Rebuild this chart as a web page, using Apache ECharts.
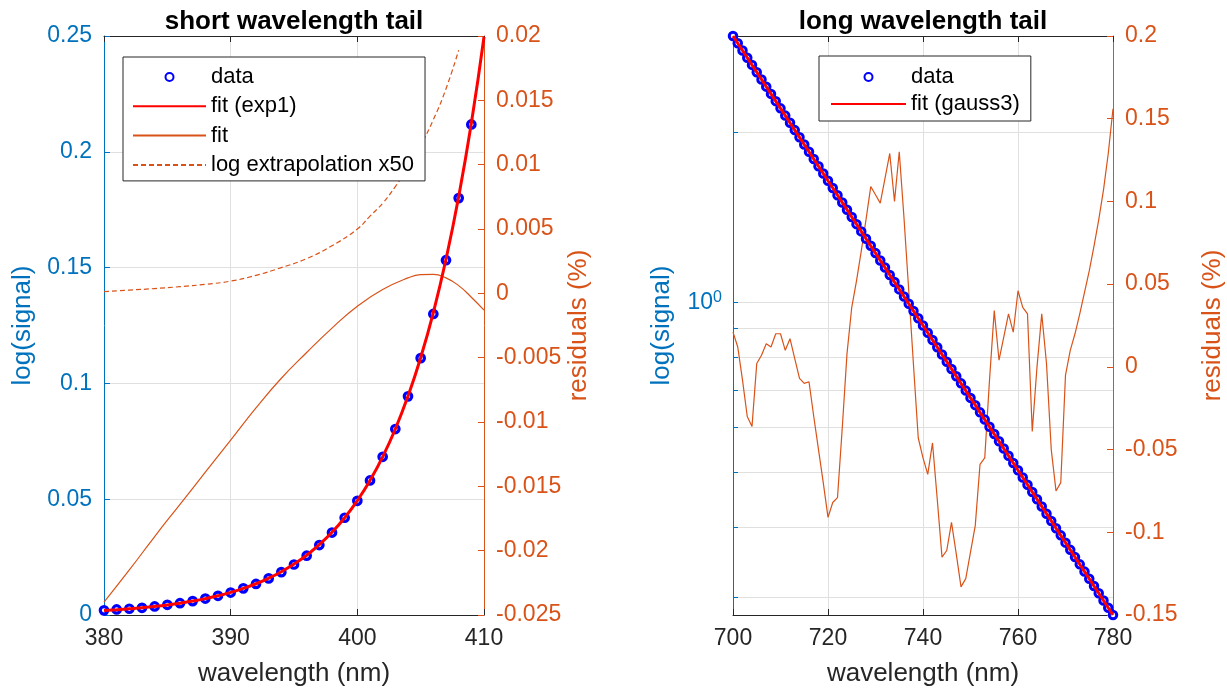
<!DOCTYPE html>
<html>
<head>
<meta charset="utf-8">
<script src="https://cdn.jsdelivr.net/npm/echarts@6/dist/echarts.min.js"></script>
<style>
  html, body { margin: 0; padding: 0; background: #ffffff; }
  #chart { width: 1227px; height: 692px; }
</style>
</head>
<body>
<div id="chart"></div>
<script>
// ---------- short wavelength tail ----------
const shortWavelength = [380, 381, 382, 383, 384, 385, 386, 387, 388, 389,
  390, 391, 392, 393, 394, 395, 396, 397, 398, 399,
  400, 401, 402, 403, 404, 405, 406, 407, 408, 409];
const shortSignal = [0.0020, 0.0024, 0.0027, 0.0031, 0.0037, 0.0044, 0.0051, 0.0060, 0.0071, 0.0083,
  0.0097, 0.0115, 0.0134, 0.0158, 0.0185, 0.0218, 0.0256, 0.0302, 0.0356, 0.0420,
  0.0493, 0.0581, 0.0683, 0.0803, 0.0944, 0.1109, 0.1300, 0.1532, 0.1800, 0.2118];

const exp1Wavelength = [380, 381, 382, 383, 384, 385, 386, 387, 388, 389,
  390, 391, 392, 393, 394, 395, 396, 397, 398, 399,
  400, 401, 402, 403, 404, 405, 406, 407, 408, 409, 410];
const exp1Fit = [0.00194, 0.00228, 0.00268, 0.00315, 0.00370, 0.00435, 0.00511, 0.00601, 0.00707, 0.00831,
  0.00978, 0.0115, 0.0135, 0.0159, 0.0187, 0.0220, 0.0258, 0.0304, 0.0357, 0.0420,
  0.0494, 0.0581, 0.0683, 0.0803, 0.0945, 0.1111, 0.1306, 0.1536, 0.1806, 0.2123, 0.2497];

// residual-axis curves (%)
const residualFitWavelength = [380, 382, 384, 386, 388, 390, 392, 394, 396, 398,
  400, 402, 404, 405, 406, 407, 408, 409, 410];
const residualFit = [-0.0240, -0.0215, -0.0189, -0.0164, -0.0139, -0.0114, -0.0089, -0.0066, -0.0046, -0.0027,
  -0.0010, 0.0003, 0.0012, 0.00145, 0.00148, 0.0012, 0.0006, -0.0003, -0.0013];

const extrapWavelength = [380, 382, 384, 386, 388, 390, 392, 394, 396, 398,
  400, 401, 402, 403, 404, 405, 406, 407, 408];
const extrapValue = [0.00013, 0.00025, 0.00037, 0.00052, 0.00070, 0.00095, 0.0014, 0.0020, 0.0027, 0.0037,
  0.0050, 0.0060, 0.0070, 0.0083, 0.0098, 0.0115, 0.0135, 0.0159, 0.0189];

// ---------- long wavelength tail ----------
const longWavelength = [700, 701, 702, 703, 704, 705, 706, 707, 708, 709,
  710, 711, 712, 713, 714, 715, 716, 717, 718, 719,
  720, 721, 722, 723, 724, 725, 726, 727, 728, 729,
  730, 731, 732, 733, 734, 735, 736, 737, 738, 739,
  740, 741, 742, 743, 744, 745, 746, 747, 748, 749,
  750, 751, 752, 753, 754, 755, 756, 757, 758, 759,
  760, 761, 762, 763, 764, 765, 766, 767, 768, 769,
  770, 771, 772, 773, 774, 775, 776, 777, 778, 779, 780];
const longSignal = [2.960, 2.874, 2.791, 2.709, 2.631, 2.554, 2.480, 2.408, 2.338, 2.270,
  2.204, 2.140, 2.078, 2.017, 1.959, 1.902, 1.847, 1.793, 1.741, 1.690,
  1.641, 1.593, 1.547, 1.502, 1.458, 1.416, 1.375, 1.335, 1.296, 1.259,
  1.222, 1.186, 1.152, 1.118, 1.086, 1.054, 1.024, 0.9940, 0.9651, 0.9371,
  0.9097, 0.8832, 0.8576, 0.8327, 0.8085, 0.7850, 0.7622, 0.7400, 0.7186, 0.6977,
  0.6773, 0.6576, 0.6385, 0.6200, 0.6020, 0.5845, 0.5675, 0.5510, 0.5350, 0.5195,
  0.5043, 0.4896, 0.4754, 0.4616, 0.4482, 0.4352, 0.4225, 0.4102, 0.3983, 0.3868,
  0.3755, 0.3646, 0.3540, 0.3437, 0.3337, 0.3240, 0.3146, 0.3055, 0.2966, 0.2880, 0.2796];

const gaussWavelength = [700, 710, 720, 730, 740, 750, 760, 770, 780];
const gauss3Fit = [2.960, 2.204, 1.641, 1.222, 0.9097, 0.6773, 0.5043, 0.3755, 0.2796];

const longResidual = [0.021, 0.012, -0.008, -0.030, -0.036, 0.002, 0.007, 0.014, 0.012, 0.020,
  0.020, 0.010, 0.017, 0.005, -0.007, -0.010, -0.009, -0.030, -0.050, -0.070,
  -0.091, -0.082, -0.079, -0.037, 0.008, 0.036, 0.052, 0.070, 0.089, 0.109,
  0.104, 0.099, 0.114, 0.129, 0.100, 0.130, 0.090, 0.046, 0.001, -0.043,
  -0.055, -0.065, -0.046, -0.080, -0.115, -0.111, -0.094, -0.113, -0.133, -0.128,
  -0.112, -0.096, -0.059, -0.055, -0.008, 0.034, 0.004, 0.018, 0.032, 0.021,
  0.046, 0.036, 0.032, -0.039, 0.000, 0.032, 0.002, -0.050, -0.075, -0.070,
  -0.005, 0.010, 0.020, 0.032, 0.045, 0.058, 0.073, 0.089, 0.107, 0.129, 0.156];

// log-axis tick positions and the single labelled decade
const logTickValues = [0.3, 0.4, 0.5, 0.6, 0.7, 0.8, 0.9, 1, 2];
const logLabelValues = [1];

// ---------- styling ----------
const FONT = 'Liberation Sans, Arial, Helvetica, sans-serif';
const BLUE = '#0072BD';
const ORANGE = '#D95319';
const DARK = '#262626';
const GRID = '#e0e0e0';
const MARKER = '#0000FF';
const FITRED = '#FF0000';

function zip(xs, ys) { return xs.map((x, i) => [x, ys[i]]); }

function bottomAxis(gridIndex, min, max, interval) {
  return {
    type: 'value', gridIndex, position: 'bottom', min, max, interval,
    name: 'wavelength (nm)', nameLocation: 'middle', nameGap: 46,
    nameTextStyle: { fontFamily: FONT, fontSize: 26, color: DARK },
    axisLine: { show: true, onZero: false, lineStyle: { color: DARK, width: 1 } },
    axisTick: { show: true, inside: true, length: 6, lineStyle: { color: DARK } },
    axisLabel: { fontFamily: FONT, fontSize: 23, color: DARK, margin: 12 },
    splitLine: { show: true, lineStyle: { color: GRID, width: 1 } }
  };
}
function topAxis(gridIndex, min, max, interval) {
  return {
    type: 'value', gridIndex, position: 'top', min, max, interval,
    axisLine: { show: true, onZero: false, lineStyle: { color: DARK, width: 1 } },
    axisTick: { show: true, inside: true, length: 6, lineStyle: { color: DARK } },
    axisLabel: { show: false },
    splitLine: { show: false }
  };
}
function residualAxis(gridIndex, min, max, interval, nameGap) {
  return {
    type: 'value', gridIndex, position: 'right', min, max, interval,
    name: 'residuals (%)', nameLocation: 'middle', nameGap,
    nameTextStyle: { fontFamily: FONT, fontSize: 26, color: ORANGE },
    axisLine: { show: true, onZero: false, lineStyle: { color: ORANGE, width: 1 } },
    axisTick: { show: true, inside: true, length: 6, lineStyle: { color: ORANGE } },
    axisLabel: { fontFamily: FONT, fontSize: 23, color: ORANGE, margin: 12 },
    splitLine: { show: false }
  };
}
// legend entry for a plain line: hide the symbol drawn in the middle of the sample
function lineEntry(name) { return { name, itemStyle: { opacity: 0 } }; }

const chart = echarts.init(document.getElementById('chart'), null, { renderer: 'canvas' });

chart.setOption({
  animation: false,
  backgroundColor: '#ffffff',
  title: [
    { text: 'short wavelength tail', left: 294, top: 9, textAlign: 'center', padding: 0,
      textStyle: { fontFamily: FONT, fontSize: 26, fontWeight: 'bold', color: '#000' } },
    { text: 'long wavelength tail', left: 923, top: 9, textAlign: 'center', padding: 0,
      textStyle: { fontFamily: FONT, fontSize: 26, fontWeight: 'bold', color: '#000' } }
  ],
  legend: [
    {
      data: ['data', lineEntry('fit (exp1)'), lineEntry('fit'), lineEntry('log extrapolation x50')],
      orient: 'vertical', left: 123, top: 57,
      itemWidth: 73, itemHeight: 8, itemGap: 7.3,
      padding: [9, 11, 5, 9],
      borderColor: DARK, borderWidth: 1, backgroundColor: '#ffffff',
      selectedMode: false,
      textStyle: { fontFamily: FONT, fontSize: 22, color: '#000', lineHeight: 22 }
    },
    {
      data: ['data', lineEntry('fit (gauss3)')],
      orient: 'vertical', left: 819, top: 56,
      itemWidth: 75, itemHeight: 8, itemGap: 5,
      padding: [10, 11, 6, 11],
      borderColor: DARK, borderWidth: 1, backgroundColor: '#ffffff',
      selectedMode: false,
      textStyle: { fontFamily: FONT, fontSize: 22, color: '#000', lineHeight: 22 }
    }
  ],
  grid: [
    { left: 104, top: 36, width: 380, height: 582 },
    { left: 733, top: 36, width: 380, height: 582 }
  ],
  xAxis: [
    bottomAxis(0, 380, 410, 10),
    topAxis(0, 380, 410, 10),
    bottomAxis(1, 700, 780, 20),
    topAxis(1, 700, 780, 20)
  ],
  yAxis: [
    {
      type: 'value', gridIndex: 0, position: 'left', min: 0, max: 0.25, interval: 0.05,
      name: 'log(signal)', nameLocation: 'middle', nameGap: 68,
      nameTextStyle: { fontFamily: FONT, fontSize: 26, color: BLUE },
      axisLine: { show: true, onZero: false, lineStyle: { color: BLUE, width: 1 } },
      axisTick: { show: true, inside: true, length: 6, lineStyle: { color: BLUE } },
      axisLabel: { fontFamily: FONT, fontSize: 23, color: BLUE, margin: 12 },
      splitLine: { show: true, lineStyle: { color: GRID, width: 1 } }
    },
    residualAxis(0, -0.025, 0.02, 0.005, 82),
    {
      type: 'log', logBase: 10, gridIndex: 1, position: 'left', min: 0.2796, max: 2.96,
      name: 'log(signal)', nameLocation: 'middle', nameGap: 58,
      nameTextStyle: { fontFamily: FONT, fontSize: 26, color: BLUE },
      axisLine: { show: true, onZero: false, lineStyle: { color: BLUE, width: 1 } },
      axisTick: { show: true, inside: true, length: 5, lineStyle: { color: BLUE }, customValues: logTickValues },
      axisLabel: {
        customValues: logLabelValues, margin: 11,
        formatter: () => '{b|10}{s|0}',
        rich: {
          b: { fontFamily: FONT, fontSize: 23, color: BLUE, lineHeight: 26 },
          s: { fontFamily: FONT, fontSize: 16, color: BLUE, verticalAlign: 'top', lineHeight: 16 }
        }
      },
      splitLine: { show: true, lineStyle: { color: GRID, width: 1 } }
    },
    residualAxis(1, -0.15, 0.2, 0.05, 87)
  ],
  series: [
    // left panel
    {
      name: 'fit', type: 'line', xAxisIndex: 0, yAxisIndex: 1, z: 2,
      data: zip(residualFitWavelength, residualFit), smooth: true,
      symbol: 'none', lineStyle: { color: ORANGE, width: 1.2 }, itemStyle: { color: ORANGE }
    },
    {
      name: 'log extrapolation x50', type: 'line', xAxisIndex: 0, yAxisIndex: 1, z: 2,
      data: zip(extrapWavelength, extrapValue), smooth: true,
      symbol: 'none', lineStyle: { color: ORANGE, width: 1.2, type: [5, 3] }, itemStyle: { color: ORANGE }
    },
    {
      name: 'data', type: 'scatter', xAxisIndex: 0, yAxisIndex: 0, z: 3, clip: false,
      data: zip(shortWavelength, shortSignal),
      symbol: 'circle', symbolSize: 7.5,
      itemStyle: { color: '#ffffff', borderColor: MARKER, borderWidth: 3.2, opacity: 1 }
    },
    {
      name: 'fit (exp1)', type: 'line', xAxisIndex: 0, yAxisIndex: 0, z: 4,
      data: zip(exp1Wavelength, exp1Fit), smooth: true,
      symbol: 'none', lineStyle: { color: FITRED, width: 3 }, itemStyle: { color: FITRED }
    },
    // right panel
    {
      name: 'residuals', type: 'line', xAxisIndex: 2, yAxisIndex: 3, z: 2,
      data: zip(longWavelength, longResidual),
      symbol: 'none', lineStyle: { color: ORANGE, width: 1.2 }
    },
    {
      name: 'data', type: 'scatter', xAxisIndex: 2, yAxisIndex: 2, z: 3, clip: false,
      data: zip(longWavelength, longSignal),
      symbol: 'circle', symbolSize: 7.5,
      itemStyle: { color: '#ffffff', borderColor: MARKER, borderWidth: 3, opacity: 1 }
    },
    {
      name: 'fit (gauss3)', type: 'line', xAxisIndex: 2, yAxisIndex: 2, z: 4,
      data: zip(gaussWavelength, gauss3Fit),
      symbol: 'none', lineStyle: { color: FITRED, width: 3 }, itemStyle: { color: FITRED }
    }
  ]
});
</script>
</body>
</html>
